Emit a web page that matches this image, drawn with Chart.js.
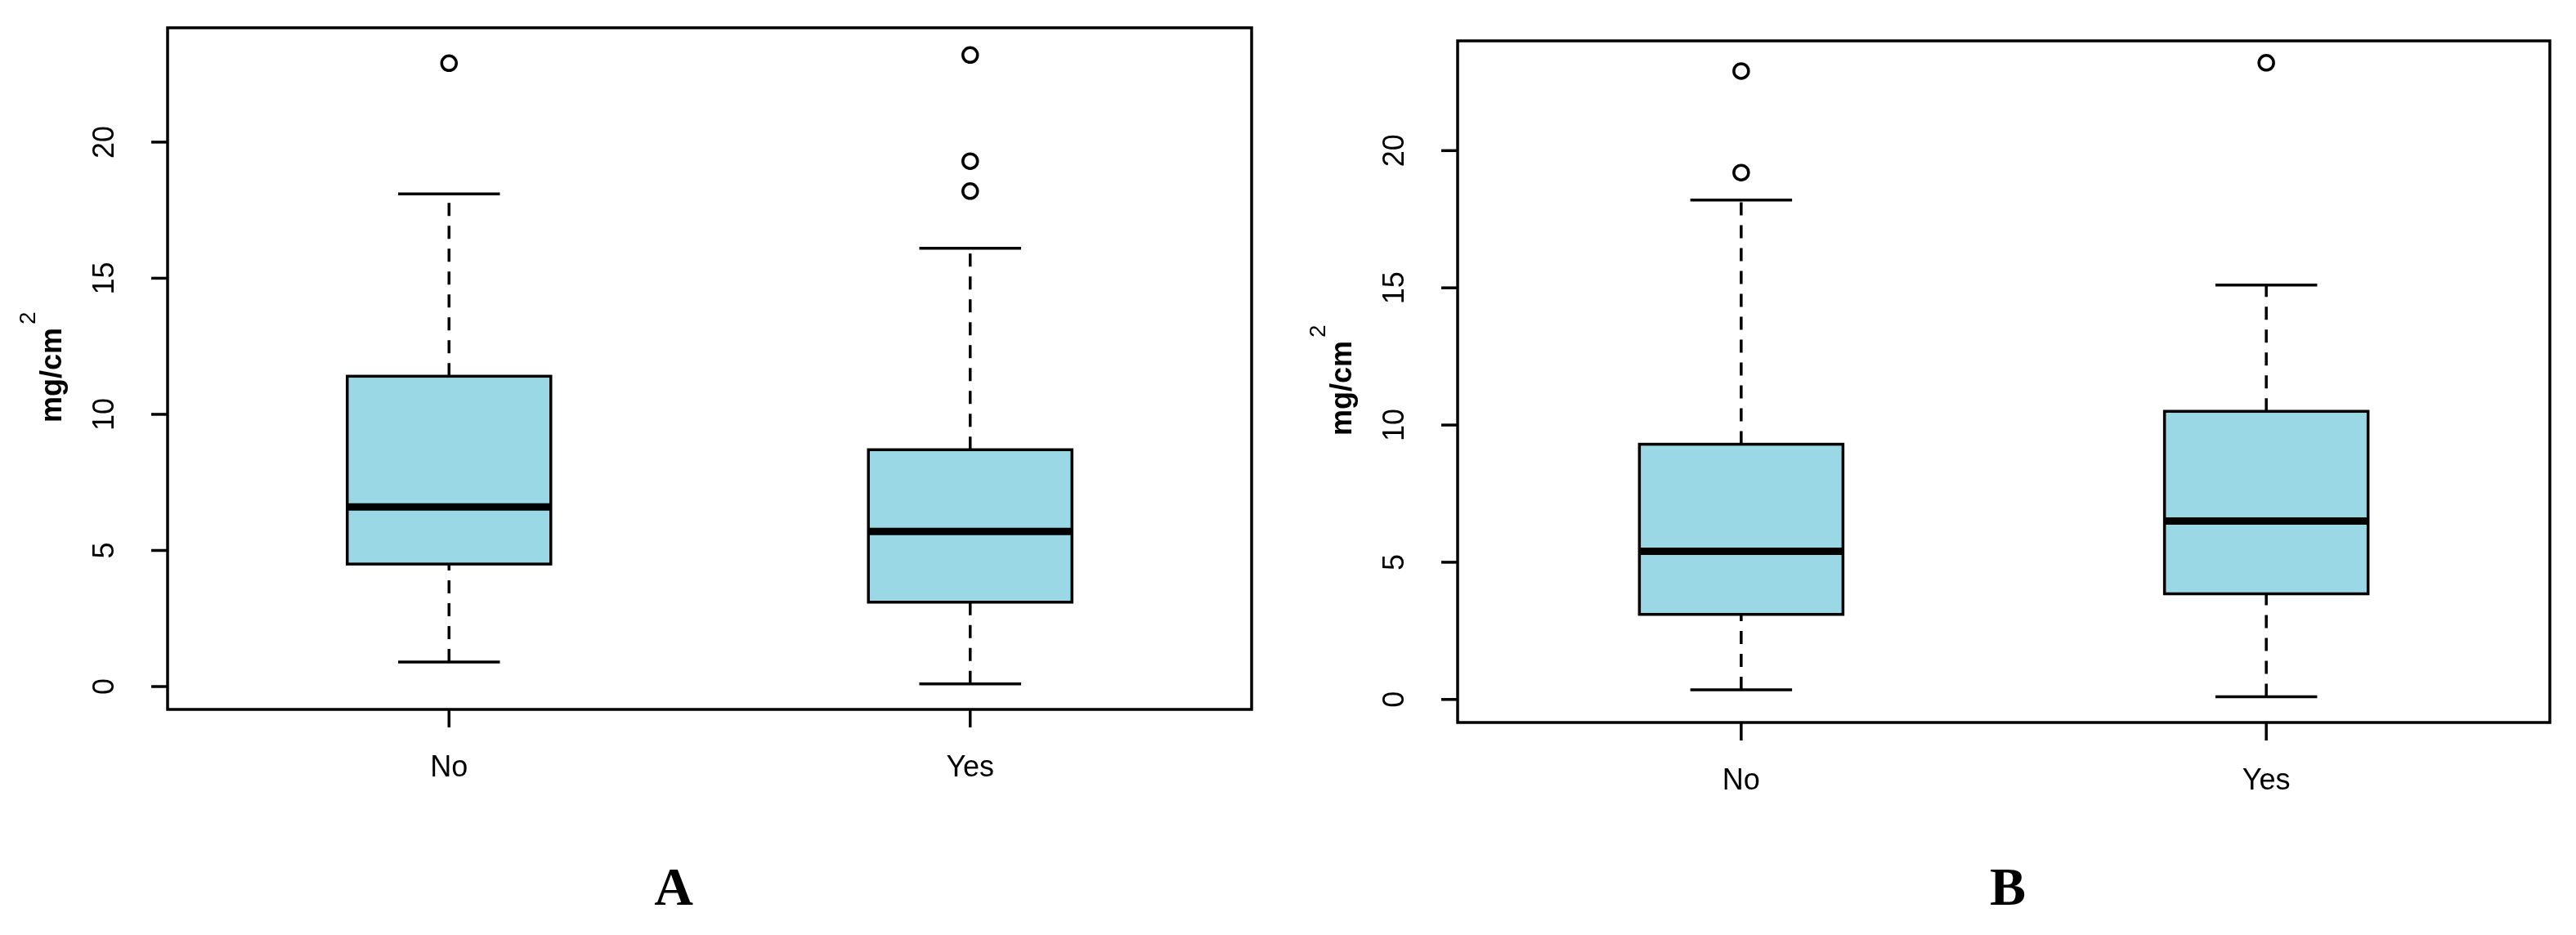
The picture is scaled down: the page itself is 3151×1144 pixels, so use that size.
<!DOCTYPE html>
<html>
<head>
<meta charset="utf-8">
<script src="https://cdn.jsdelivr.net/npm/chart.js@4/dist/chart.umd.min.js"></script>
<style>
  html, body { margin: 0; padding: 0; background: #fff; }
  .panel { position: absolute; top: 0; height: 1144px; }
</style>
</head>
<body>
<div class="panel" style="left:0;width:1575px"><canvas id="chartA"></canvas></div>
<div class="panel" style="left:1575px;width:1576px"><canvas id="chartB"></canvas></div>
<script>
const categories = ["No", "Yes"];
const yTicks = [0, 5, 10, 15, 20];

// [lower whisker, Q1, median, Q3, upper whisker]
const statsA = [[0.9, 4.5, 6.6, 11.4, 18.1], [0.1, 3.1, 5.7, 8.7, 16.1]];
const outliersA = [[22.9], [18.2, 19.3, 23.2]];
const statsB = [[0.35, 3.1, 5.4, 9.3, 18.2], [0.1, 3.85, 6.5, 10.5, 15.1]];
const outliersB = [[19.2, 22.9], [23.2]];

const FILL = "#9bd8e6";
const LW = 3.5;

const boxPlugin = {
    id: "boxParts",
    afterDatasetsDraw(chart, args, opts) {
        const ctx = chart.ctx;
        const x = chart.scales.x, y = chart.scales.y;
        const area = chart.chartArea;
        const boxW = opts.boxWidth;
        ctx.save();
        ctx.strokeStyle = "#000";
        ctx.lineCap = "butt";
        opts.stats.forEach((s, i) => {
            const cx = x.getPixelForValue(i + 1);
            const half = boxW / 2;
            // whiskers
            ctx.lineWidth = LW;
            ctx.setLineDash([16, 12]);
            ctx.beginPath();
            ctx.moveTo(cx, y.getPixelForValue(s[0]));
            ctx.lineTo(cx, y.getPixelForValue(s[1]));
            ctx.moveTo(cx, y.getPixelForValue(s[3]));
            ctx.lineTo(cx, y.getPixelForValue(s[4]));
            ctx.stroke();
            ctx.setLineDash([]);
            // caps
            ctx.beginPath();
            ctx.moveTo(cx - half / 2, y.getPixelForValue(s[0]));
            ctx.lineTo(cx + half / 2, y.getPixelForValue(s[0]));
            ctx.moveTo(cx - half / 2, y.getPixelForValue(s[4]));
            ctx.lineTo(cx + half / 2, y.getPixelForValue(s[4]));
            ctx.stroke();
            // box outline
            const top = y.getPixelForValue(s[3]), bot = y.getPixelForValue(s[1]);
            ctx.strokeRect(cx - half, top, boxW, bot - top);
            // median
            ctx.lineWidth = 9;
            ctx.beginPath();
            ctx.moveTo(cx - half, y.getPixelForValue(s[2]));
            ctx.lineTo(cx + half, y.getPixelForValue(s[2]));
            ctx.stroke();
            // x tick + label
            ctx.lineWidth = LW;
            ctx.beginPath();
            ctx.moveTo(cx, area.bottom);
            ctx.lineTo(cx, area.bottom + 22);
            ctx.stroke();
            ctx.fillStyle = "#000";
            ctx.font = "36px 'Liberation Sans', Arial, sans-serif";
            ctx.textAlign = "center";
            ctx.textBaseline = "middle";
            ctx.fillText(categories[i], cx, area.bottom + 72);
        });
        // frame
        ctx.lineWidth = LW;
        ctx.strokeRect(area.left, area.top, area.right - area.left, area.bottom - area.top);
        // y ticks + rotated labels
        yTicks.forEach(t => {
            const py = y.getPixelForValue(t);
            ctx.beginPath();
            ctx.moveTo(area.left, py);
            ctx.lineTo(area.left - 20, py);
            ctx.stroke();
            ctx.save();
            ctx.translate(area.left - 76, py);
            ctx.rotate(-Math.PI / 2);
            ctx.font = "36px 'Liberation Sans', Arial, sans-serif";
            ctx.textAlign = "center";
            ctx.textBaseline = "middle";
            ctx.fillText(String(t), 0, 0);
            ctx.restore();
        });
        // y axis title mg/cm^2
        ctx.save();
        const midY = (area.top + area.bottom) / 2;
        ctx.translate(area.left - 140, midY);
        ctx.rotate(-Math.PI / 2);
        ctx.font = "bold 36px 'Liberation Sans', Arial, sans-serif";
        ctx.textBaseline = "middle";
        const main = "mg/cm";
        const w = ctx.measureText(main).width;
        ctx.textAlign = "left";
        ctx.fillText(main, -w / 2 - 8, 0);
        ctx.font = "28px 'Liberation Sans', Arial, sans-serif";
        ctx.fillText("2", w / 2 - 4, -30);
        ctx.restore();
        // panel letter
        ctx.font = "bold 66px 'Liberation Serif', 'Times New Roman', serif";
        ctx.textAlign = "center";
        ctx.textBaseline = "middle";
        ctx.fillText(opts.letter, opts.letterX, 1090);
        ctx.restore();
    }
};

function makeChart(id, stats, outliers, pad, yMax, letter, letterX) {
    const boxWidth = 249;
    const boxes = stats.map((s, i) => ({ x: i + 1, y: [s[1], s[3]] }));
    const pts = [];
    outliers.forEach((arr, i) => arr.forEach(v => pts.push({ x: i + 1, y: v })));
    return new Chart(document.getElementById(id), {
        type: "bar",
        data: {
            datasets: [
                {
                    type: "bar",
                    data: boxes,
                    backgroundColor: FILL,
                    borderWidth: 0,
                    barThickness: boxWidth
                },
                {
                    type: "scatter",
                    data: pts,
                    pointStyle: "circle",
                    pointRadius: 9,
                    pointBorderWidth: LW,
                    pointBorderColor: "#000",
                    pointBackgroundColor: "rgba(0,0,0,0)"
                }
            ]
        },
        options: {
            responsive: true,
            maintainAspectRatio: false,
            animation: false,
            layout: { padding: pad },
            plugins: {
                legend: { display: false },
                tooltip: { enabled: false },
                boxParts: { stats, boxWidth, letter, letterX }
            },
            scales: {
                x: { type: "linear", min: 0.46, max: 2.54, display: false, offset: false },
                y: { type: "linear", min: -0.84, max: yMax, display: false }
            }
        },
        plugins: [boxPlugin]
    });
}

makeChart("chartA", statsA, outliersA, { left: 205, right: 44, top: 34, bottom: 276 }, 24.2, "A", 824);
makeChart("chartB", statsB, outliersB, { left: 208, right: 32, top: 50, bottom: 260 }, 24.0, "B", 2456 - 1575);
</script>
</body>
</html>
